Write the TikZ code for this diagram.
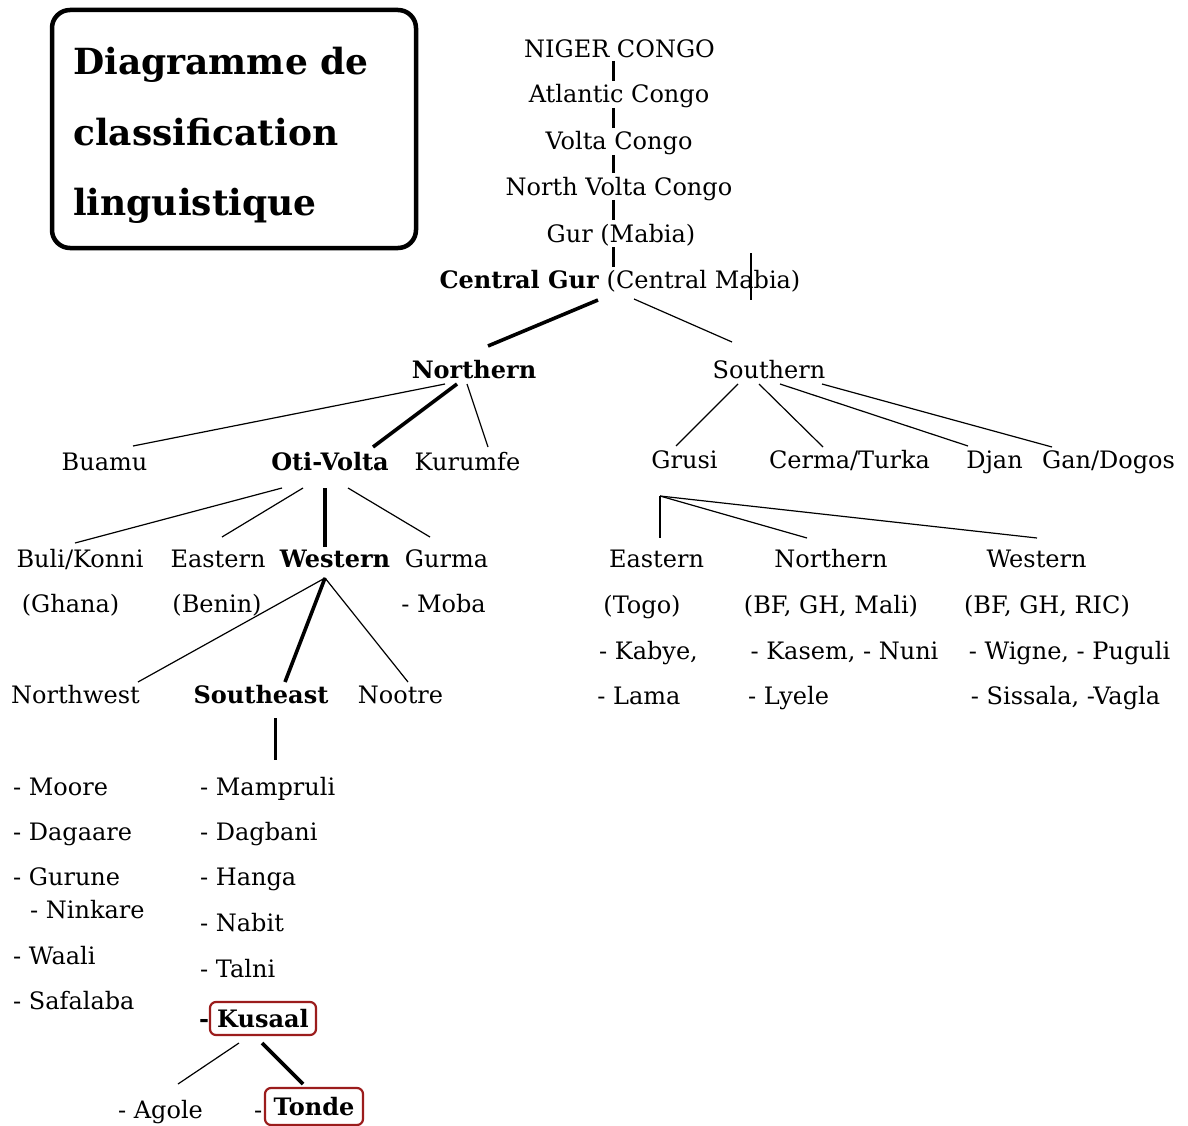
\documentclass[tikz,border=0pt]{standalone}
\usepackage{fontspec}
\setmainfont{DejaVu Serif}
\definecolor{boxred}{RGB}{155,28,28}
\begin{document}
\begin{tikzpicture}[x=1pt,y=-1pt,
  lbl/.style={anchor=base, inner sep=0pt, font=\fontsize{24}{28}\selectfont},
  lst/.style={anchor=base west, inner sep=0pt, font=\fontsize{24}{28}\selectfont},
  ttl/.style={anchor=base west, inner sep=0pt, font=\fontsize{36}{42}\selectfont\bfseries},
  conn/.style={line width=1.2pt},
  connthick/.style={line width=3.6pt},
  stem/.style={line width=3pt},
  redbox/.style={draw=boxred, line width=2.2pt, rounded corners=6pt, inner sep=0pt, font=\fontsize{24}{28}\selectfont\bfseries}
]
\useasboundingbox[fill=white] (0,0) rectangle (1188,1126);

% title
\node[draw, line width=4.5pt, rounded corners=18pt, minimum width=364pt, minimum height=238pt, inner sep=0pt] (titlebox) at (234,129) {};
\node[ttl] (t1) at (73,75) {Diagramme de};
\node[ttl] (t2) at (73,146) {classification};
\node[ttl] (t3) at (73,215) {linguistique};

% top column
\node[lbl] (niger) at (619.5,58) {NIGER CONGO};
\node[lbl] (atl) at (619,103) {Atlantic Congo};
\node[lbl] (volta) at (619,150) {Volta Congo};
\node[lbl] (nvc) at (619,196) {North Volta Congo};
\node[lbl] (gur) at (621,242) {Gur (Mabia)};
\node[lbl] (cgur) at (620,288) {\textbf{Central Gur} (Central Mabia)};

\draw[stem] ([shift={(-6.5,3)}]niger.base) -- ([shift={(-6,-22)}]atl.base);
\draw[stem] ([shift={(-6,5)}]atl.base) -- ([shift={(-6,-22)}]volta.base);
\draw[stem] ([shift={(-6,5)}]volta.base) -- ([shift={(-6,-23)}]nvc.base);
\draw[stem] ([shift={(-6,4)}]nvc.base) -- ([shift={(-8,-22)}]gur.base);
\draw[stem] ([shift={(-8,5)}]gur.base) -- ([shift={(-7,-21)}]cgur.base);
\draw[line width=1.5pt] ([shift={(131,-35)}]cgur.base) -- ([shift={(131,12)}]cgur.base);

% level 2
\node[lbl, font=\fontsize{24}{28}\selectfont\bfseries] (northern) at (474,378) {Northern};
\node[lbl] (southern) at (769,378) {Southern};
\draw[connthick] ([shift={(-22,12)}]cgur.base) -- ([shift={(14,-32)}]northern.base);
\draw[conn] ([shift={(14,11)}]cgur.base) -- ([shift={(-37,-36)}]southern.base);

% level 3
\node[lbl] (buamu) at (104.5,470) {Buamu};
\node[lbl, font=\fontsize{24}{28}\selectfont\bfseries] (otivolta) at (330,470) {Oti-Volta};
\node[lbl] (kurumfe) at (467.5,470) {Kurumfe};
\node[lbl] (grusi) at (684.5,468) {Grusi};
\node[lbl] (cerma) at (849.5,468) {Cerma/Turka};
\node[lbl] (djan) at (994.5,468) {Djan};
\node[lbl] (gan) at (1108.5,468) {Gan/Dogos};

\draw[conn] ([shift={(-29,6)}]northern.base) -- ([shift={(28.5,-24)}]buamu.base);
\draw[connthick] ([shift={(-17,6)}]northern.base) -- ([shift={(43,-23)}]otivolta.base);
\draw[conn] ([shift={(-7,6)}]northern.base) -- ([shift={(20.5,-23)}]kurumfe.base);
\draw[conn] ([shift={(-31,6)}]southern.base) -- ([shift={(-8.5,-22)}]grusi.base);
\draw[conn] ([shift={(-10,6)}]southern.base) -- ([shift={(-26.5,-21)}]cerma.base);
\draw[conn] ([shift={(11,6)}]southern.base) -- ([shift={(-26.5,-22)}]djan.base);
\draw[conn] ([shift={(53,6)}]southern.base) -- ([shift={(-56.5,-21)}]gan.base);

% level 4 left
\node[lbl] (buli) at (80,567) {Buli/Konni};
\node[lbl] (easternL) at (218,567) {Eastern};
\node[lbl, font=\fontsize{24}{28}\selectfont\bfseries] (westernL) at (335,567) {Western};
\node[lbl] (gurma) at (446.5,567) {Gurma};
\node[lbl] (ghana) at (70.5,612) {(Ghana)};
\node[lbl] (benin) at (217,612) {(Benin)};
\node[lbl] (moba) at (443.5,612) {- Moba};

\draw[conn] ([shift={(-48,18)}]otivolta.base) -- ([shift={(-5,-24)}]buli.base);
\draw[conn] ([shift={(-27,18)}]otivolta.base) -- ([shift={(4,-30)}]easternL.base);
\draw[connthick] ([shift={(-5,18)}]otivolta.base) -- ([shift={(-10,-20)}]westernL.base);
\draw[conn] ([shift={(18,18)}]otivolta.base) -- ([shift={(-16.5,-30)}]gurma.base);

% level 5 left
\node[lbl] (northwest) at (75.5,703) {Northwest};
\node[lbl, font=\fontsize{24}{28}\selectfont\bfseries] (southeast) at (261,703) {Southeast};
\node[lbl] (nootre) at (400.5,703) {Nootre};

\draw[conn] ([shift={(-10,11)}]westernL.base) -- ([shift={(62.5,-21)}]northwest.base);
\draw[connthick] ([shift={(-10,11)}]westernL.base) -- ([shift={(24,-21)}]southeast.base);
\draw[conn] ([shift={(-10,11)}]westernL.base) -- ([shift={(7.5,-21)}]nootre.base);

% level 4 right (Grusi)
\node[lbl] (easternR) at (656.5,567) {Eastern};
\node[lbl] (northernR) at (831,567) {Northern};
\node[lbl] (westernR) at (1036.5,567) {Western};
\node[lbl] (togo) at (642,613) {(Togo)};
\node[lbl] (bfghmali) at (831,613) {(BF, GH, Mali)};
\node[lbl] (bfghric) at (1047,613) {(BF, GH, RIC)};
\node[lbl] (kabye) at (648.5,659) {- Kabye,};
\node[lbl] (kasem) at (844.5,659) {- Kasem, - Nuni};
\node[lbl] (wigne) at (1069.5,659) {- Wigne, - Puguli};
\node[lbl] (lama) at (639,704) {- Lama};
\node[lbl] (lyele) at (788.5,704) {- Lyele};
\node[lbl] (sissala) at (1065.5,704) {- Sissala, -Vagla};

\coordinate (gapex) at ([shift={(-24.5,28)}]grusi.base);
\draw[conn] (gapex) -- ([shift={(3.5,-29)}]easternR.base);
\draw[conn] (gapex) -- ([shift={(-24,-29)}]northernR.base);
\draw[conn] (gapex) -- ([shift={(0.5,-29)}]westernR.base);

% lists
\node[lst] (moore) at (13,795) {- Moore};
\node[lst] (dagaare) at (13,840) {- Dagaare};
\node[lst] (gurune) at (13,885) {- Gurune};
\node[lst] (ninkare) at (30,918) {- Ninkare};
\node[lst] (waali) at (13,964) {- Waali};
\node[lst] (safalaba) at (13,1009) {- Safalaba};

\node[lst] (mampruli) at (200,795) {- Mampruli};
\node[lst] (dagbani) at (200,840) {- Dagbani};
\node[lst] (hanga) at (200,885) {- Hanga};
\node[lst] (nabit) at (200,931) {- Nabit};
\node[lst] (talni) at (200,977) {- Talni};
\node[lst, font=\fontsize{24}{28}\selectfont\bfseries] (kdash) at (199,1027) {-};
\node[redbox, minimum width=106pt, minimum height=33pt] (kusaal) at (263,1018.5) {Kusaal};

\draw[stem] ([shift={(14,15)}]southeast.base) -- ([shift={(75,-35)}]mampruli.base west);

\node[lst] (agole) at (118,1118) {- Agole};
\node[lst] (tdash) at (254,1118) {-};
\node[redbox, minimum width=98pt, minimum height=37pt] (tonde) at (314,1106.5) {Tonde};

\draw[conn] ([shift={(-24,24.5)}]kusaal.center) -- ([shift={(60,-34)}]agole.base west);
\draw[connthick] ([shift={(-1,24.5)}]kusaal.center) -- ([shift={(-11,-22.5)}]tonde.center);
\end{tikzpicture}
\end{document}
